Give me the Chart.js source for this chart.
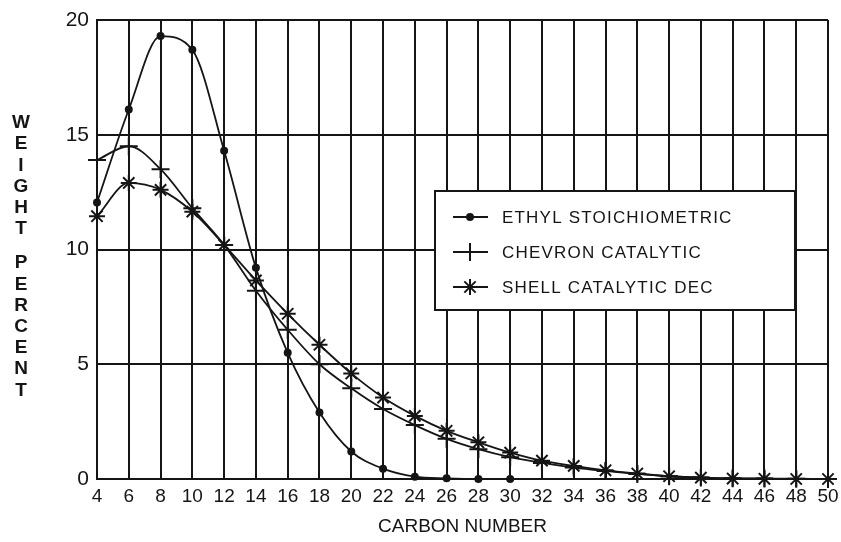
<!DOCTYPE html>
<html>
<head>
<meta charset="utf-8">
<script src="https://cdn.jsdelivr.net/npm/chart.js@4"></script>
<style>
  html, body { margin: 0; padding: 0; background: #fff; }
  #wrap { width: 841px; height: 542px; }
</style>
</head>
<body>
<div id="wrap"><canvas id="fractionChart" width="841" height="542"></canvas></div>
<script>
const carbonNumbers = [4, 6, 8, 10, 12, 14, 16, 18, 20, 22, 24, 26, 28, 30, 32, 34, 36, 38, 40, 42, 44, 46, 48, 50];
const ethylValues = [12.05, 16.1, 19.3, 18.7, 14.3, 9.2, 5.5, 2.9, 1.2, 0.45, 0.1, 0.03, 0, 0];
const chevronValues = [13.9, 14.5, 13.5, 11.8, 10.2, 8.2, 6.5, 5.0, 3.95, 3.05, 2.35, 1.75, 1.3, 0.95, 0.7, 0.5, 0.35, 0.22, 0.12, 0.06, 0.03, 0.02, 0.01, 0];
const shellValues = [11.45, 12.9, 12.6, 11.65, 10.2, 8.65, 7.2, 5.85, 4.6, 3.55, 2.75, 2.1, 1.6, 1.15, 0.8, 0.57, 0.38, 0.24, 0.12, 0.06, 0.02, 0.01, 0, 0];
const seriesNames = ['ETHYL STOICHIOMETRIC', 'CHEVRON CATALYTIC', 'SHELL CATALYTIC DEC'];
const yTitle = ['WEIGHT', 'PERCENT'];
const xTitle = 'CARBON NUMBER';

const ink = '#151515';

function toPoints(values) {
  return values.map((v, i) => ({ x: carbonNumbers[i], y: v }));
}

// stacked upright letters for the y title
const stackedTitle = {
  id: 'stackedTitle',
  afterDraw(chart) {
    const ctx = chart.ctx;
    ctx.save();
    ctx.fillStyle = ink;
    ctx.font = 'bold 19px "Liberation Sans", Arial, sans-serif';
    ctx.textAlign = 'center';
    ctx.textBaseline = 'middle';
    let y = 123;
    yTitle.forEach((word) => {
      for (const ch of word) {
        ctx.fillText(ch, 21, y);
        y += 21.2;
      }
      y += 13;
    });
    ctx.restore();
  }
};

// boxed legend inside the plot
const boxLegend = {
  id: 'boxLegend',
  afterDatasetsDraw(chart) {
    const ctx = chart.ctx;
    const left = 435, top = 191, width = 360, height = 119;
    ctx.save();
    ctx.fillStyle = '#fff';
    ctx.fillRect(left, top, width, height);
    ctx.strokeStyle = ink;
    ctx.lineWidth = 2;
    ctx.strokeRect(left, top, width, height);
    ctx.font = '17px "Liberation Sans", Arial, sans-serif';
    ctx.letterSpacing = '1.2px';
    ctx.textBaseline = 'middle';
    chart.data.datasets.forEach((ds, i) => {
      const y = 217 + i * 35;
      ctx.strokeStyle = ink;
      ctx.fillStyle = ink;
      ctx.lineWidth = 2;
      ctx.beginPath();
      ctx.moveTo(453, y);
      ctx.lineTo(488, y);
      ctx.stroke();
      Chart.helpers.drawPoint(ctx, {
        pointStyle: ds.pointStyle,
        radius: ds.pointRadius,
        borderWidth: 2
      }, 470, y);
      ctx.fillText(ds.label, 502, y + 1);
    });
    ctx.restore();
  }
};

function renderChart() {
  const el = document.getElementById('fractionChart');
  new Chart(el, {
    type: 'line',
    data: {
      datasets: [{
        label: seriesNames[0],
        data: toPoints(ethylValues),
        pointStyle: 'circle',
        pointRadius: 3,
        backgroundColor: ink,
        borderColor: ink,
        clip: false
      }, {
        label: seriesNames[1],
        data: toPoints(chevronValues),
        pointStyle: 'cross',
        pointRadius: 9,
        backgroundColor: ink,
        borderColor: ink,
        clip: false
      }, {
        label: seriesNames[2],
        data: toPoints(shellValues),
        pointStyle: 'star',
        pointRadius: 8,
        backgroundColor: ink,
        borderColor: ink,
        clip: false
      }]
    },
    options: {
      responsive: false,
      animation: false,
      layout: { padding: { left: 0, right: 13, top: 20, bottom: 4 } },
      elements: {
        line: { borderWidth: 1.8, cubicInterpolationMode: 'monotone', fill: false },
        point: { borderWidth: 2, hoverRadius: 8 }
      },
      plugins: {
        legend: { display: false },
        tooltip: { enabled: false }
      },
      scales: {
        x: {
          type: 'linear',
          min: 4,
          max: 50,
          afterFit(scale) {
            scale.height = 59;
            scale.paddingLeft = 0;
            scale.paddingRight = 0;
          },
          ticks: {
            stepSize: 2,
            color: ink,
            padding: 6,
            maxRotation: 0,
            autoSkip: false,
            font: { family: '"Liberation Sans Narrow", "Liberation Sans", Arial, sans-serif', size: 19 }
          },
          grid: { color: ink, lineWidth: 2, drawTicks: false },
          border: { color: ink, width: 2 },
          title: {
            display: true,
            text: xTitle,
            color: ink,
            padding: { top: 2, bottom: 0 },
            font: { family: '"Liberation Sans Narrow", "Liberation Sans", Arial, sans-serif', size: 19 }
          }
        },
        y: {
          min: 0,
          max: 20,
          afterFit(scale) {
            scale.width = 97;
            scale.paddingTop = 0;
            scale.paddingBottom = 0;
          },
          ticks: {
            stepSize: 5,
            color: ink,
            padding: 8,
            font: { family: '"Liberation Sans", Arial, sans-serif', size: 21 }
          },
          grid: { color: ink, lineWidth: 2, drawTicks: false },
          border: { color: ink, width: 2 }
        }
      }
    },
    plugins: [stackedTitle, boxLegend]
  });
}

window.addEventListener('load', renderChart);
</script>
</body>
</html>
